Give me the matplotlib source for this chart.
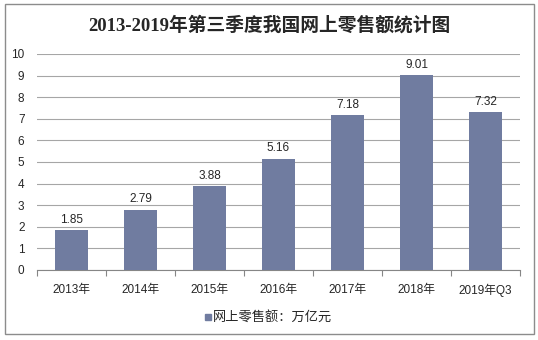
import matplotlib.pyplot as plt
from matplotlib.patches import Rectangle

plt.rcParams['font.family'] = ['Liberation Sans', 'Noto Sans CJK SC', 'DejaVu Sans']

years = ['2013年', '2014年', '2015年', '2016年', '2017年', '2018年', '2019年Q3']
sales = [1.85, 2.79, 3.88, 5.16, 7.18, 9.01, 7.32]
yticks = [0, 1, 2, 3, 4, 5, 6, 7, 8, 9, 10]

bar_color = '#707ca0'
grid_color = '#a6a6a6'

fig = plt.figure(figsize=(5.38, 3.40), dpi=100)
ax = fig.add_axes([37 / 538, 1 - 270 / 340, (520 - 37) / 538, (270 - 54) / 340])

x = list(range(len(years)))
ax.bar(x, sales, width=0.49, color=bar_color, zorder=3)
for xi, v in zip(x, sales):
    ax.text(xi, v + 0.2, f'{v:.2f}', ha='center', va='bottom', fontsize=8.5, color='#262626')

ax.set_xlim(-0.5, len(years) - 0.5)
ax.set_ylim(0, 10)
ax.set_yticks(yticks)
ax.set_yticklabels([str(t) for t in yticks], fontsize=8.5, color='#262626')
ax.yaxis.grid(True, color=grid_color, linewidth=0.8, zorder=0)
ax.tick_params(axis='y', length=0, pad=9)

# category labels centred, tick marks on the boundaries
ax.set_xticks(x)
ax.set_xticklabels(years, fontsize=8.5, color='#262626')
ax.set_xticks([i - 0.5 for i in range(len(years) + 1)], minor=True)
ax.tick_params(axis='x', which='major', length=0, pad=10)
ax.tick_params(axis='x', which='minor', length=4, color='#868686', width=0.8)

for s in ['left', 'right', 'top']:
    ax.spines[s].set_visible(False)
ax.spines['bottom'].set_color('#868686')
ax.spines['bottom'].set_linewidth(0.8)

fig.text(0.5, 1 - 25 / 340, '2013-2019年第三季度我国网上零售额统计图', ha='center', va='center',
         fontsize=13.5, fontweight='bold', color='#262626',
         family=['Liberation Serif', 'Noto Sans CJK SC'])

# legend
fig.patches.append(Rectangle((205 / 538, 1 - 320 / 340), 6 / 538, 6 / 340,
                             transform=fig.transFigure, color=bar_color))
fig.text(213 / 538, 1 - 317 / 340, '网上零售额：万亿元', ha='left', va='center',
         fontsize=9.5, color='#262626')

# outer frame
fig.patches.append(Rectangle((5 / 538, 6 / 340), 529 / 538, 330 / 340, transform=fig.transFigure,
                             fill=False, edgecolor='#8c8c8c', linewidth=1))

fig.savefig('out.png', dpi=100)
